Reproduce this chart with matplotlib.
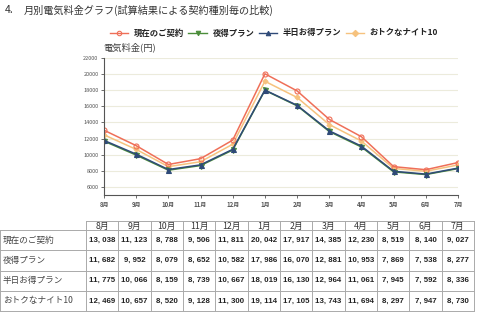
import matplotlib
matplotlib.use('Agg')
import matplotlib.pyplot as plt
from matplotlib.lines import Line2D

plt.rcParams['font.family'] = ['Noto Sans CJK JP', 'DejaVu Sans']

months = ['8月', '9月', '10月', '11月', '12月', '1月', '2月', '3月', '4月', '5月', '6月', '7月']
plans = ['現在のご契約', '夜得プラン', '半日お得プラン', 'おトクなナイト10']
current = [13038, 11123, 8788, 9506, 11811, 20042, 17917, 14385, 12230, 8519, 8140, 9027]
yoru = [11682, 9952, 8079, 8652, 10582, 17986, 16070, 12881, 10953, 7869, 7538, 8277]
hanbi = [11775, 10066, 8159, 8739, 10667, 18019, 16130, 12964, 11061, 7945, 7592, 8336]
otoku = [12469, 10657, 8520, 9128, 11300, 19114, 17105, 13743, 11694, 8297, 7947, 8730]
yticks = [6000, 8000, 10000, 12000, 14000, 16000, 18000, 20000, 22000]

W, H = 480, 322
fig = plt.figure(figsize=(W / 100, H / 100), dpi=100)
fig.patch.set_facecolor('white')


def fx(x):
    return x / W


def fy(y):
    return 1 - y / H


# title
fig.text(fx(5), fy(10), '4.', fontsize=7.5, color='#333333', va='center', ha='left')
fig.text(fx(24), fy(10), '月別電気料金グラフ(試算結果による契約種別毎の比較)',
         fontsize=7.3, color='#333333', va='center', ha='left')

# chart axes
ax = fig.add_axes([fx(104), fy(195), fx(458) - fx(104), fy(58) - fy(195)])
ax.set_xlim(0, 11)
ax.set_ylim(5000, 22000)
x = list(range(len(months)))

styles = [
    (otoku, '#f6c27e', 'D', 2.6),
    (current, '#ef6f58', 'o', 3.6),
    (yoru, '#4b8d3a', 'v', 3.6),
    (hanbi, '#2f4a78', '^', 3.6),
]
for vals, col, mk, ms in styles:
    face = 'none' if mk == 'o' else col
    ax.plot(x, vals, color=col, lw=1.1, marker=mk, ms=ms, mfc=face, mec=col, mew=0.8)

ax.set_yticks(yticks)
ax.set_yticklabels([str(v) for v in yticks], fontsize=4.0, color='#222222')
ax.set_xticks(x)
ax.set_xticklabels(months, fontsize=4.3, fontweight='bold', color='#333333')
ax.tick_params(axis='both', length=2, width=0.6, colors='#555555', pad=2)
ax.grid(axis='y', color='#ecebdc', lw=0.8)
ax.set_axisbelow(True)
for s in ['top', 'right']:
    ax.spines[s].set_visible(False)
for s in ['left', 'bottom']:
    ax.spines[s].set_color('#555555')
    ax.spines[s].set_linewidth(0.8)

fig.text(fx(103), fy(47), '電気料金(円)', fontsize=6.7, color='#444444', va='center', ha='left')

# legend
handles = []
for col, mk, face in [('#ef6f58', 'o', 'none'), ('#4b8d3a', 'v', '#4b8d3a'),
                      ('#2f4a78', '^', '#2f4a78'), ('#f6c27e', 'D', '#f6c27e')]:
    handles.append(Line2D([], [], color=col, lw=1.0, marker=mk, ms=3.2, mfc=face, mec=col, mew=0.8))
leg = fig.legend(handles, plans, ncol=4, loc='center', bbox_to_anchor=(fx(274), fy(33)),
                 frameon=False, handlelength=2.2, handletextpad=0.7,
                 columnspacing=0.5, prop={'size': 6, 'weight': 'bold'})
for t in leg.get_texts():
    t.set_color('#222222')

# table
tab = fig.add_axes([0, 0, 1, 1])
tab.set_xlim(0, W)
tab.set_ylim(H, 0)
tab.axis('off')
lc = '#aaaaaa'
col_left, col_right = 86, 474
ncol = len(months)
cw = (col_right - col_left) / ncol
head_top, head_bot = 221, 230
row_bot = 311
rh = (row_bot - head_bot) / len(plans)

tab.plot([col_left, col_right], [head_top, head_top], color=lc, lw=0.7)
for i in range(len(plans) + 1):
    yy = head_bot + i * rh
    tab.plot([0, col_right], [yy, yy], color=lc, lw=0.7)
for j in range(ncol + 1):
    xx = col_left + j * cw
    tab.plot([xx, xx], [head_top, row_bot], color=lc, lw=0.7)
tab.plot([0, 0], [head_bot, row_bot], color=lc, lw=0.7)

for j, m in enumerate(months):
    tab.text(col_left + (j + 0.5) * cw, (head_top + head_bot) / 2 + 0.5, m, fontsize=6.3,
             ha='center', va='center', color='#333333')

rows = [current, yoru, hanbi, otoku]
for i, (lab, vals) in enumerate(zip(plans, rows)):
    yc = head_bot + (i + 0.5) * rh
    tab.text(3, yc, lab, fontsize=6.2, ha='left', va='center', color='#444444')
    for j, v in enumerate(vals):
        tab.text(col_left + (j + 0.5) * cw, yc, f'{v:,}'.replace(',', ', '),
                 fontsize=5.7, ha='center', va='center', color='#222222',
                 family=['Liberation Sans', 'DejaVu Sans'], fontweight='bold')

fig.savefig('out.png', dpi=100, facecolor='white')
